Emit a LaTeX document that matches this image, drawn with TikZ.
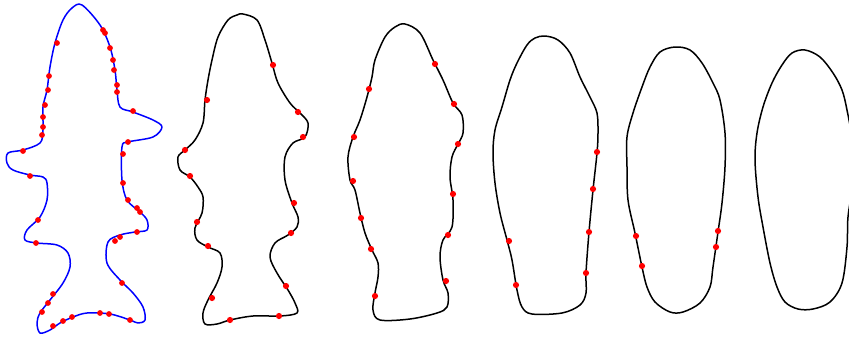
\documentclass[tikz,border=0pt]{standalone}
\begin{document}
\begin{tikzpicture}[x=1pt,y=-1pt,
  outline/.style={line width=1.5pt,line join=round},
  dot/.style={fill=red,draw=none},
]
\clip (0,0) rectangle (849,338);
\fill[white] (0,0) rectangle (849,338);
% shape 1
\draw[outline,blue] plot[smooth cycle,tension=0.55] coordinates {
(82,5)(100,25)(110,47)(115,70)(117,90)(120,107)(133,112)(153,120)(162,127)(153,137)(128,142)(122,147)(122,180)(127,200)(140,212)(147,220)(147,230)(135,232)(120,235)(108,242)(107,263)(120,280)(133,293)(143,307)(145,320)(138,323)(130,320)(110,314)(87,313)(73,317)(60,323)(50,330)(40,333)(37,323)(40,313)(50,300)(63,283)(70,267)(68,253)(57,245)(37,243)(25,240)(27,230)(40,217)(47,200)(47,183)(43,177)(30,175)(13,170)(7,163)(8,153)(23,150)(40,143)(43,130)(43,107)(47,90)(50,67)(55,43)(63,20)(72,8)};
\foreach \p in {(57,43),(103,30),(105,33),(110,48),(113,60),(114,70),(117,85),(117,92),(49,76),(48,90),(45,105),(43,117),(43,127),(42,135),(133,111),(128,142),(123,154),(123,183),(128,200),(137,208),(140,212),(137,232),(120,237),(115,241),(23,151),(30,176),(38,220),(36,243),(122,283),(53,294),(48,303),(42,312),(53,326),(63,321),(72,317),(100,313),(109,314),(130,320)}
  \fill[dot] \p circle (2.9);
% shape 2
\draw[outline,black] plot[smooth cycle,tension=0.55] coordinates {
(243,14)(257,20)(265,40)(272,63)(278,83)(290,103)(300,113)(308,123)(305,137)(293,143)(285,157)(285,180)(292,203)(298,217)(297,227)(288,235)(275,243)(270,257)(277,273)(288,290)(295,303)(297,313)(280,316)(253,316)(230,320)(217,324)(205,324)(203,313)(208,300)(217,283)(222,267)(220,253)(208,247)(197,240)(195,228)(202,213)(203,197)(198,187)(190,177)(180,170)(178,157)(185,150)(195,140)(203,123)(205,100)(208,80)(212,60)(218,37)(228,20)(237,15)};
\foreach \p in {(273,65),(298,112),(303,137),(294,203),(291,233),(286,286),(279,316),(230,320),(212,298),(208,246),(197,222),(190,176),(185,150),(207,100)}
  \fill[dot] \p circle (3.1);
% shape 3
\draw[outline,black] plot[smooth cycle,tension=0.55] coordinates {
(405,24)(420,33)(433,60)(443,80)(453,103)(462,115)(463,133)(458,144)(452,157)(450,177)(453,200)(452,227)(443,240)(440,257)(443,280)(448,293)(447,307)(437,313)(410,319)(380,320)(373,310)(375,293)(378,277)(378,263)(372,250)(365,233)(360,213)(355,190)(350,180)(348,157)(353,137)(360,120)(367,97)(372,77)(375,60)(385,37)(395,27)};
\foreach \p in {(435,64),(454,104),(458,144),(453,194),(448,235),(446,281),(375,296),(371,249),(361,218),(353,181),(354,137),(369,89)}
  \fill[dot] \p circle (3.1);
% shape 4
\draw[outline,black] plot[smooth cycle,tension=0.55] coordinates {
(545,36)(558,40)(570,53)(580,77)(590,97)(597,113)(598,133)(597,153)(593,190)(589,232)(586,273)(586,293)(580,305)(562,313)(532,314)(522,307)(517,290)(512,260)(507,240)(500,213)(495,183)(493,153)(495,130)(502,107)(510,80)(517,63)(527,45)(535,38)};
\foreach \p in {(597,152),(593,189),(589,232),(586,273),(516,285),(509,241)}
  \fill[dot] \p circle (3.1);
% shape 5
\draw[outline,black] plot[smooth cycle,tension=0.55] coordinates {
(675,47)(690,50)(702,63)(713,83)(720,100)(725,133)(725,167)(722,203)(718,232)(713,267)(710,287)(700,303)(683,312)(670,312)(655,302)(647,287)(642,267)(635,233)(628,200)(627,167)(627,137)(633,113)(642,87)(650,67)(660,52)};
\foreach \p in {(718,231),(716,247),(642,266),(636,236)}
  \fill[dot] \p circle (3.1);
% shape 6
\draw[outline,black] plot[smooth cycle,tension=0.55] coordinates {
(805,50)(820,57)(833,73)(842,90)(847,110)(852,140)(853,180)(848,217)(847,247)(842,283)(830,302)(813,309)(798,309)(785,302)(777,287)(770,263)(763,227)(758,197)(755,160)(757,133)(763,107)(772,83)(782,65)(792,53)};
\end{tikzpicture}
\end{document}
